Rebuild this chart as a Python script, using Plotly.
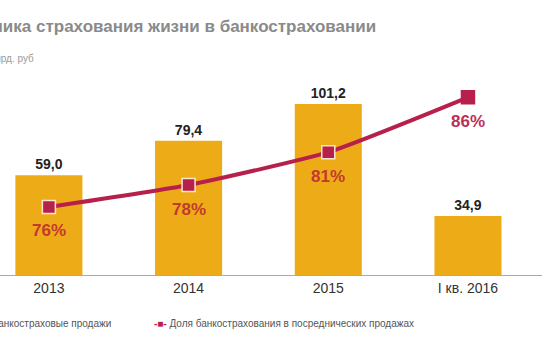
import plotly.graph_objects as go

categories = ["2013", "2014", "2015", "I кв. 2016"]
sales = [59.0, 79.4, 101.2, 34.9]
sales_labels = ["59,0", "79,4", "101,2", "34,9"]
share = [76, 78, 81, 86]
share_labels = ["76%", "78%", "81%", "86%"]

BAR = "#EEAB18"
LINE = "#B8204C"
FONT = "Liberation Sans, Arial, sans-serif"

x_idx = list(range(len(categories)))

top_px, bot_px, H, W = 60, 275, 340, 542
plot_h = bot_px - top_px


def py(pix):
    # convert a pixel row of the figure to paper y
    return (bot_px - pix) / plot_h


fig = go.Figure()
fig.add_trace(go.Bar(
    x=x_idx, y=sales, width=0.48, marker=dict(color=BAR, line=dict(width=0)),
    text=[f"<b>{s}</b>" for s in sales_labels], textposition="outside", cliponaxis=False,
    textfont=dict(family=FONT, size=14, color="#222222"),
    name="Банкостраховые продажи", showlegend=False,
))
fig.add_trace(go.Scatter(
    x=x_idx, y=share, yaxis="y2", mode="lines+markers",
    line=dict(color=LINE, width=4, shape="spline", smoothing=0.5),
    marker=dict(symbol="square", size=13, color=LINE,
                line=dict(color=["#F6E6D0", "#F6E6D0", "#F6E6D0", LINE], width=1.5)),
    name="Доля банкострахования в посреднических продажах", showlegend=False,
))

label_colors = ["#C23A2E", "#C23A2E", "#C23A2E", "#BE2E58"]
for xi, v, t, c in zip(x_idx, share, share_labels, label_colors):
    fig.add_annotation(x=xi, y=v, yref="y2", text=f"<b>{t}</b>", showarrow=False,
                       yshift=-24, font=dict(family=FONT, size=17, color=c))

# title and units (cropped on the left like the reference)
fig.add_annotation(x=378 / W, y=py(27), xref="paper", yref="paper",
                   xanchor="right", yanchor="middle", showarrow=False,
                   text="<b>Динамика страхования жизни в банкостраховании</b>",
                   font=dict(family=FONT, size=17, color="#8A8A8A"))
fig.add_annotation(x=36 / W, y=py(59), xref="paper", yref="paper",
                   xanchor="right", yanchor="middle", showarrow=False,
                   text="млрд. руб", font=dict(family=FONT, size=10, color="#9A9A9A"))

# legend
fig.add_annotation(x=113 / W, y=py(323), xref="paper", yref="paper",
                   xanchor="right", yanchor="middle", showarrow=False,
                   text=f"<span style='color:{BAR}'>■</span>  Банкостраховые продажи",
                   font=dict(family=FONT, size=10, color="#555555"))
fig.add_annotation(x=152 / W, y=py(323), xref="paper", yref="paper",
                   xanchor="left", yanchor="middle", showarrow=False,
                   text=f"<span style='color:{LINE}'><b>-■-</b></span> Доля банкострахования в посреднических продажах",
                   font=dict(family=FONT, size=10, color="#555555"))

fig.update_layout(
    width=W, height=H,
    margin=dict(l=0, r=0, t=top_px, b=H - bot_px),
    paper_bgcolor="white", plot_bgcolor="white",
    xaxis=dict(range=[-0.35, 3.53], tickvals=x_idx, ticktext=categories,
               showgrid=False, zeroline=False, showline=True, linecolor="#AAAAAA", linewidth=1,
               ticks="", tickfont=dict(family=FONT, size=14, color="#333333")),
    yaxis=dict(range=[0, 127.2], visible=False, showgrid=False),
    yaxis2=dict(range=[69.8, 89.4], overlaying="y", visible=False, showgrid=False),
    showlegend=False,
)

fig.write_html("out.html")
